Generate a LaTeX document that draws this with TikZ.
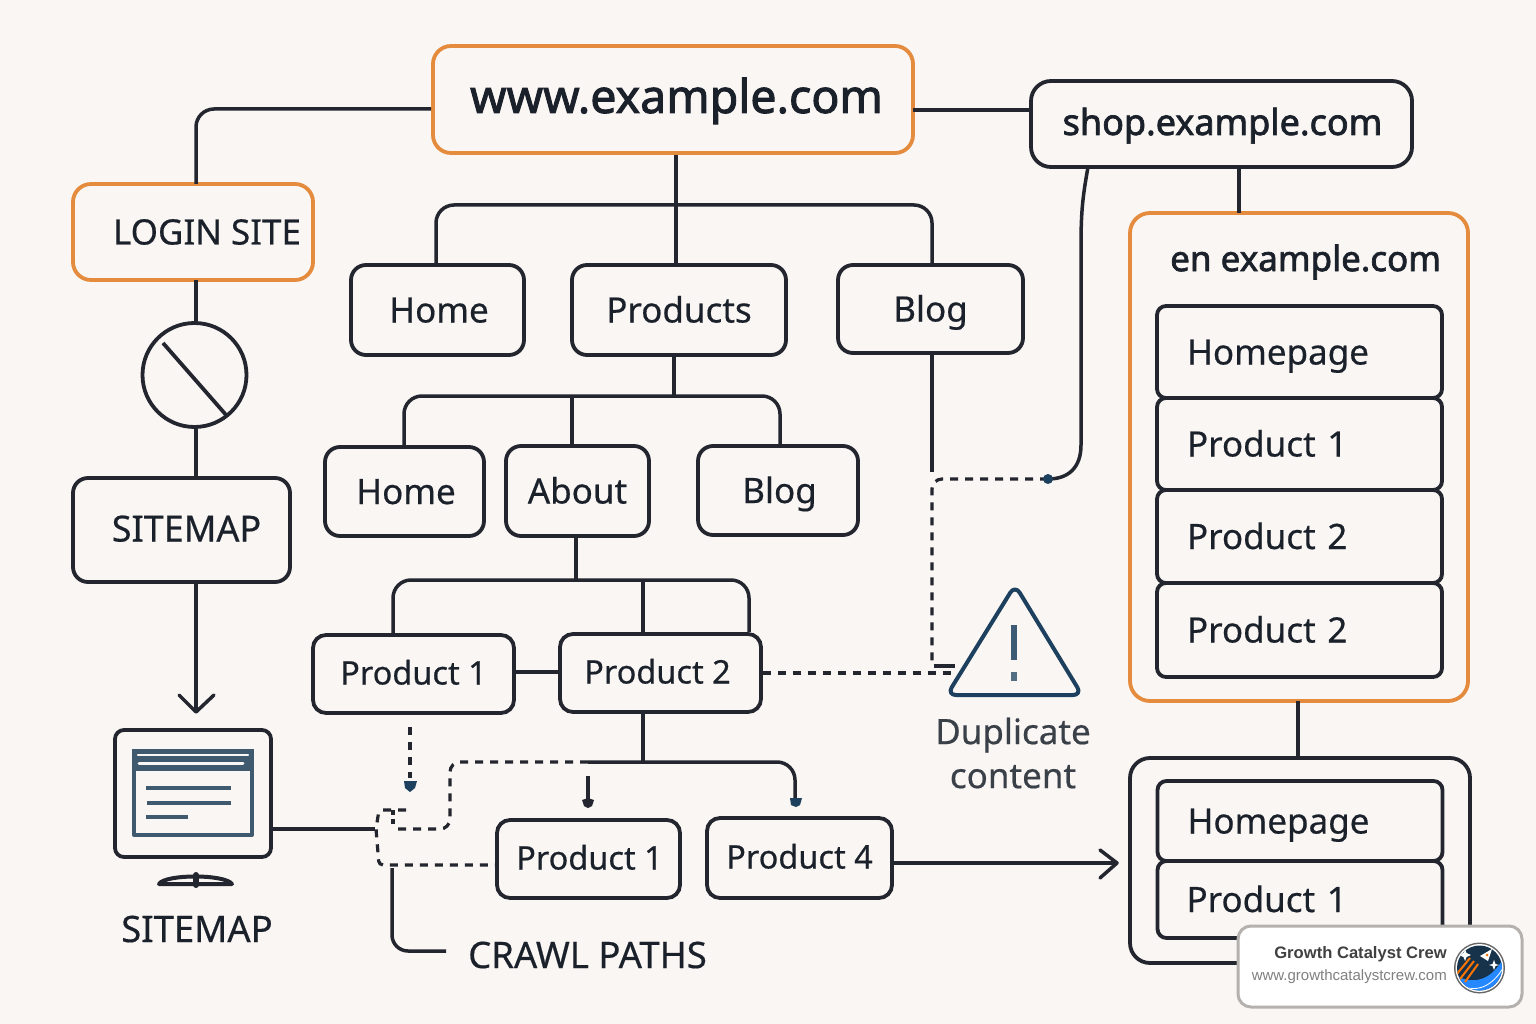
\documentclass[tikz,border=0pt]{standalone}
\usepackage{fontspec}
\setmainfont[FakeBold=0.45]{Noto Sans}
\newfontfamily\heavyfont[FakeBold=2]{Noto Sans}
\newfontfamily\badgefont{Liberation Sans}
\usetikzlibrary{calc}
\definecolor{bgc}{HTML}{FAF6F3}
\definecolor{ink}{HTML}{23262E}
\definecolor{txt}{HTML}{1B212B}
\definecolor{orng}{HTML}{E58B3D}
\definecolor{navy}{HTML}{1C405E}
\definecolor{slate}{HTML}{3F5A6E}
\definecolor{capt}{HTML}{3A4048}
\tikzset{
 x=1pt,y=-1pt,
 conn/.style={draw=ink,line width=3.5pt,rounded corners=18pt},
 dashc/.style={draw=ink,line width=3.2pt,dash pattern=on 8pt off 7pt,rounded corners=10pt},
 box/.style={draw=ink,line width=3.8pt,rounded corners=15pt,fill=bgc,inner sep=0pt,text=txt,font=\fontsize{35}{40}\selectfont,text height=32pt,text depth=7pt},
 obox/.style={box,draw=orng},
 row/.style={box,rounded corners=9pt,minimum width=285pt,text width=225pt,align=left,inner xsep=30pt},
 tag/.style={text=txt,inner sep=0pt,font=\fontsize{35}{40}\selectfont},
 dotc/.style={circle,fill=navy,inner sep=0pt,minimum size=11pt},
}
\begin{document}
\begin{tikzpicture}
\useasboundingbox (0,0) rectangle (1536,1024);
\fill[bgc] (0,0) rectangle (1536,1024);

% junction coordinates
\coordinate (jm) at (676,205);
\coordinate (jl) at (436,205);
\coordinate (jr) at (932,205);
\coordinate (jp) at (674,396);
\coordinate (jq) at (572,396);
\coordinate (jv) at (404,396);
\coordinate (jw) at (780,396);
\coordinate (ja) at (576,580);
\coordinate (jb) at (393,580);
\coordinate (jc) at (643,580);
\coordinate (jd) at (749,580);
\coordinate (je) at (643,762);
\coordinate (jf) at (588,762);
\coordinate (jg) at (795,803);
\coordinate (dpA) at (1048,479);
\coordinate (dpB) at (932,479);
\coordinate (dpC) at (932,666);
\coordinate (dupend) at (953,673);
\coordinate (crawlA) at (410,727);
\coordinate (crawlB) at (410,778);
\coordinate (hub) at (375,829);
\coordinate (craw) at (446,951);
\coordinate (ah) at (196,712);
\coordinate (ar) at (1117,863);

\node[obox,rounded corners=18pt,minimum width=480pt,minimum height=107pt,font=\heavyfont\fontsize{46.5}{50}\selectfont,text height=36pt,text depth=9pt] (www) at (673,99.5) {\hspace{7pt}www.example.com};
\node[box,rounded corners=20pt,minimum width=381pt,minimum height=86pt,font=\heavyfont\fontsize{36}{40}\selectfont,text height=29pt] (shop) at (1221.5,124) {\hspace{2pt}shop.example.com};
\node[obox,rounded corners=18pt,minimum width=240pt,minimum height=96pt] (login) at (193,232) {\hspace{28pt}LOGIN SITE};
\node[box,minimum width=173pt,minimum height=90pt] (home1) at (437.5,310) {\hspace{3pt}Home};
\node[box,minimum width=214pt,minimum height=90pt] (products) at (679,310) {Products};
\node[box,minimum width=185pt,minimum height=88pt] (blog1) at (930.5,309) {Blog};
\node[box,minimum width=159pt,minimum height=89pt] (home2) at (404.5,491.5) {\hspace{3pt}Home};
\node[box,minimum width=143pt,minimum height=90pt] (about) at (577.5,491) {About};
\node[box,minimum width=160pt,minimum height=89pt] (blog2) at (778,490.5) {\hspace{3pt}Blog};
\node[box,minimum width=217pt,minimum height=104pt,font=\fontsize{36}{40}\selectfont,text height=30pt] (sitemap) at (181.5,530) {\hspace{10pt}SITEMAP};
\node[box,rounded corners=13pt,minimum width=201pt,minimum height=78pt,font=\fontsize{32.5}{36}\selectfont,text height=28pt] (p1a) at (413.5,674) {Product 1};
\node[box,rounded corners=13pt,minimum width=201pt,minimum height=78pt,font=\fontsize{32.5}{36}\selectfont,text height=28pt] (p2) at (660.5,673) {\hspace{-6pt}Product 2};
\node[box,rounded corners=13pt,minimum width=183pt,minimum height=78pt,font=\fontsize{32.5}{36}\selectfont,text height=28pt] (p1b) at (588.5,859) {\hspace{2pt}Product 1};
\node[box,rounded corners=13pt,minimum width=185pt,minimum height=80pt,font=\fontsize{32.5}{36}\selectfont,text height=28pt] (p4) at (799.5,858) {Product 4};

% containers
\node[draw=orng,line width=3.8pt,rounded corners=20pt,fill=bgc,inner sep=0pt,minimum width=338pt,minimum height=488pt] (enbox) at (1299,457) {};
\node[tag,font=\heavyfont\fontsize{35}{40}\selectfont,anchor=west] (entitle) at (1170,262) {en example.com};
\node[row,minimum height=92pt] (r1) at (1299.5,352) {Homepage};
\node[row,minimum height=92pt] (r2) at (1299.5,444) {Product 1};
\node[row,minimum height=93pt] (r3) at (1299.5,536.5) {Product 2};
\node[row,minimum height=94pt] (r4) at (1299.5,630) {Product 2};
\node[draw=ink,line width=3.8pt,rounded corners=20pt,fill=bgc,inner sep=0pt,minimum width=340pt,minimum height=205pt] (lowbox) at (1300,860.5) {};
\node[row,minimum height=80pt] (r5) at (1300,821) {Homepage};
\node[row,text width=223pt,minimum height=77pt] (r6) at (1300,899.5) {\hspace{-2pt}Product 1};

% solid connectors
\draw[conn] (www.west |- 433,109) -- (196,109) -- (196,184);
\draw[conn] (913,110) -- (shop.west |- 0,110);
\draw[conn] (jm |- www.south) -- (jm |- products.north);
\draw[conn] (jl |- home1.north) -- (jl) -- (jr) -- (jr |- blog1.north);
\draw[conn] (1239,167) -- (1239,213);
\draw[draw=ink,line width=3.5pt] (1088,167) .. controls (1083,195) and (1081,210) .. (1081,245) -- (1081,445) .. controls (1081,468) and (1068,479) .. (dpA);
\draw[conn] (blog1.south -| jr) -- (932,472);
\draw[conn] (jp |- products.south) -- (jp);
\draw[conn] (jv |- home2.north) -- (jv) -- (jw) -- (jw |- blog2.north);
\draw[conn] (jq) -- (jq |- about.north);
\draw[conn] (ja |- about.south) -- (ja);
\draw[conn] (jb |- p1a.north) -- (jb) -- (jd) -- (jd |- p2.north);
\draw[conn] (jc) -- (jc |- p2.north);
\draw[conn] (p1a.east |- 0,672) -- (p2.west |- 0,672);
\draw[conn] (je |- p2.south) -- (je);
\draw[conn] (jf) -- (795,762) -- (jg);
\draw[conn] (588,776) -- (588,800);
\draw[conn] (1298,701) -- (1298,758);
\draw[conn] (p4.east |- ar) -- (ar);
\draw[draw=ink,line width=3.5pt,line cap=round,line join=round] (1100,850) -- (ar) -- (1100,878);

% no-entry symbol and sitemap arrow
\node[draw=ink,line width=3.8pt,circle,inner sep=0pt,minimum size=104pt] (noentry) at (194.5,375) {};
\draw[draw=ink,line width=3.8pt] (163,343) -- (227,416);
\draw[conn] (196,280) -- (196,323);
\draw[conn] (196,427) -- (196,478);
\draw[conn] (196,582) -- (ah);
\draw[draw=ink,line width=3.5pt,line cap=round,line join=round] (179,695) -- (ah) -- (214,695);

% dashed connectors
\draw[dashc] (dpA) -- (dpB) -- (dpC);
\node[dotc,minimum size=10pt] (dp) at (dpA) {};
\draw[dashc] (p2.east |- dupend) -- (dupend);
\draw[draw=ink,line width=3.5pt] (934,666) -- (955,666);
\draw[dashc] (crawlA) -- (crawlB);
\fill[navy] (404,781) -- (417,781) -- (415,788) -- (410,792) -- (405,788) -- cycle;
\draw[dashc] (jf) -- (450,762) -- (450,829) -- (395,829);
\fill[ink] (588,798) -- (582,800) -- (584,806) -- (588,808) -- (592,806) -- (594,800) -- cycle;
\fill[navy] (790,798) -- (802,798) -- (800,805) -- (796,807) -- (791,805) -- cycle;
\draw[dashc,rounded corners=4pt] (406,810) -- (379,810) -- (376,829) -- (379,865) -- (p1b.west |- 0,865);
\draw[dashc,dash pattern=on 5pt off 4pt] (393,810) -- (393,825);
\draw[conn,rounded corners=16pt] (392,868) -- (392,951) -- (craw);
\draw[conn] (271,829) -- (hub);

% monitor
\node[draw=ink,line width=3.8pt,rounded corners=9pt,fill=bgc,inner sep=0pt,minimum width=156pt,minimum height=127pt] (mon) at (193,793.5) {};
\draw[slate,line width=4pt,line join=round] (134,751) rectangle (252,835);
\fill[slate] (132,749) rectangle (254,771);
\draw[bgc,line width=2.4pt,line cap=round] (138,755) -- (248,755);
\draw[bgc,line width=3pt,line cap=round] (139,763) -- (243,763);
\draw[slate,line width=4.5pt] (146,788) -- (231,788);
\draw[slate,line width=4.5pt] (147,803) -- (231,803);
\draw[slate,line width=4.5pt] (146,817) -- (188,817);
\draw[ink,line width=4pt,line join=round,fill=bgc] (159,884) .. controls (165,874) and (225,874) .. (232,884) -- cycle;
\draw[ink,line width=6pt,line cap=round] (196,875) -- (196,885);
\node[tag,font=\fontsize{36.5}{40}\selectfont] (sitecap) at (197,929) {SITEMAP};

% crawl label
\node[tag,anchor=west,font=\fontsize{36.5}{40}\selectfont] (crawl) at (468,955) {CRAWL PATHS};

% warning triangle
\draw[navy,line width=4pt,line join=round,rounded corners=9pt] (1015,585) -- (1082,695) -- (947,695) -- cycle;
\fill[navy!85!bgc] (1011,625) rectangle (1017,660);
\fill[navy!75!bgc] (1011,672) rectangle (1017,681);
\node[tag,text=capt,align=center,font=\fontsize{35}{44}\selectfont] (dup) at (1013,753) {Duplicate\\content};

% badge
\node[draw=black!28!bgc,line width=3pt,rounded corners=13pt,fill=white,inner sep=0pt,minimum width=284pt,minimum height=81pt] (badge) at (1380,966.5) {};
\node[anchor=east,inner sep=0pt,text=black!75,font=\badgefont\bfseries\fontsize{16.6}{20}\selectfont] (bt) at (1447,954) {Growth Catalyst Crew};
\node[anchor=east,inner sep=0pt,text=black!50,font=\badgefont\fontsize{15}{18}\selectfont] (bu) at (1447,977) {www.growthcatalystcrew.com};
% logo
\begin{scope}
\fill[black!60] (1479.5,968) circle (25.5);
\fill[white] (1479.5,968) circle (24);
\clip (1479.5,968) circle (22.5);
\fill[navy!80!black] (1450,940) rectangle (1510,1000);
\fill[blue!55!cyan!85!white] (1455,975) .. controls (1472,985) and (1492,982) .. (1505,955) -- (1505,1000) -- (1455,1000) -- cycle;
\draw[white,line width=.8pt] (1458,984) .. controls (1475,994) and (1492,987) .. (1503,968);
\draw[white,line width=.8pt] (1462,991) .. controls (1478,998) and (1494,990) .. (1503,976);
\draw[orange!90!red,line width=2pt] (1456,975) -- (1470,958);
\draw[orange!90!red,line width=2pt] (1460,979) -- (1474,961);
\draw[orange!90!red,line width=2pt] (1465,982) -- (1478,964);
\fill[white] (1492,949) -- (1488,961) -- (1480,956) -- cycle;
\fill[orange!90!red] (1487,955) circle (1.5);
\fill[white] (1465,949) -- (1466.5,953) -- (1471,955) -- (1466.5,957) -- (1465,961) -- (1463.5,957) -- (1459,955) -- (1463.5,953) -- cycle;
\fill[white] (1494,960) -- (1495.5,964) -- (1499,965) -- (1495.5,966) -- (1494,970) -- (1492.5,966) -- (1489,965) -- (1492.5,964) -- cycle;
\end{scope}
\end{tikzpicture}
\end{document}
